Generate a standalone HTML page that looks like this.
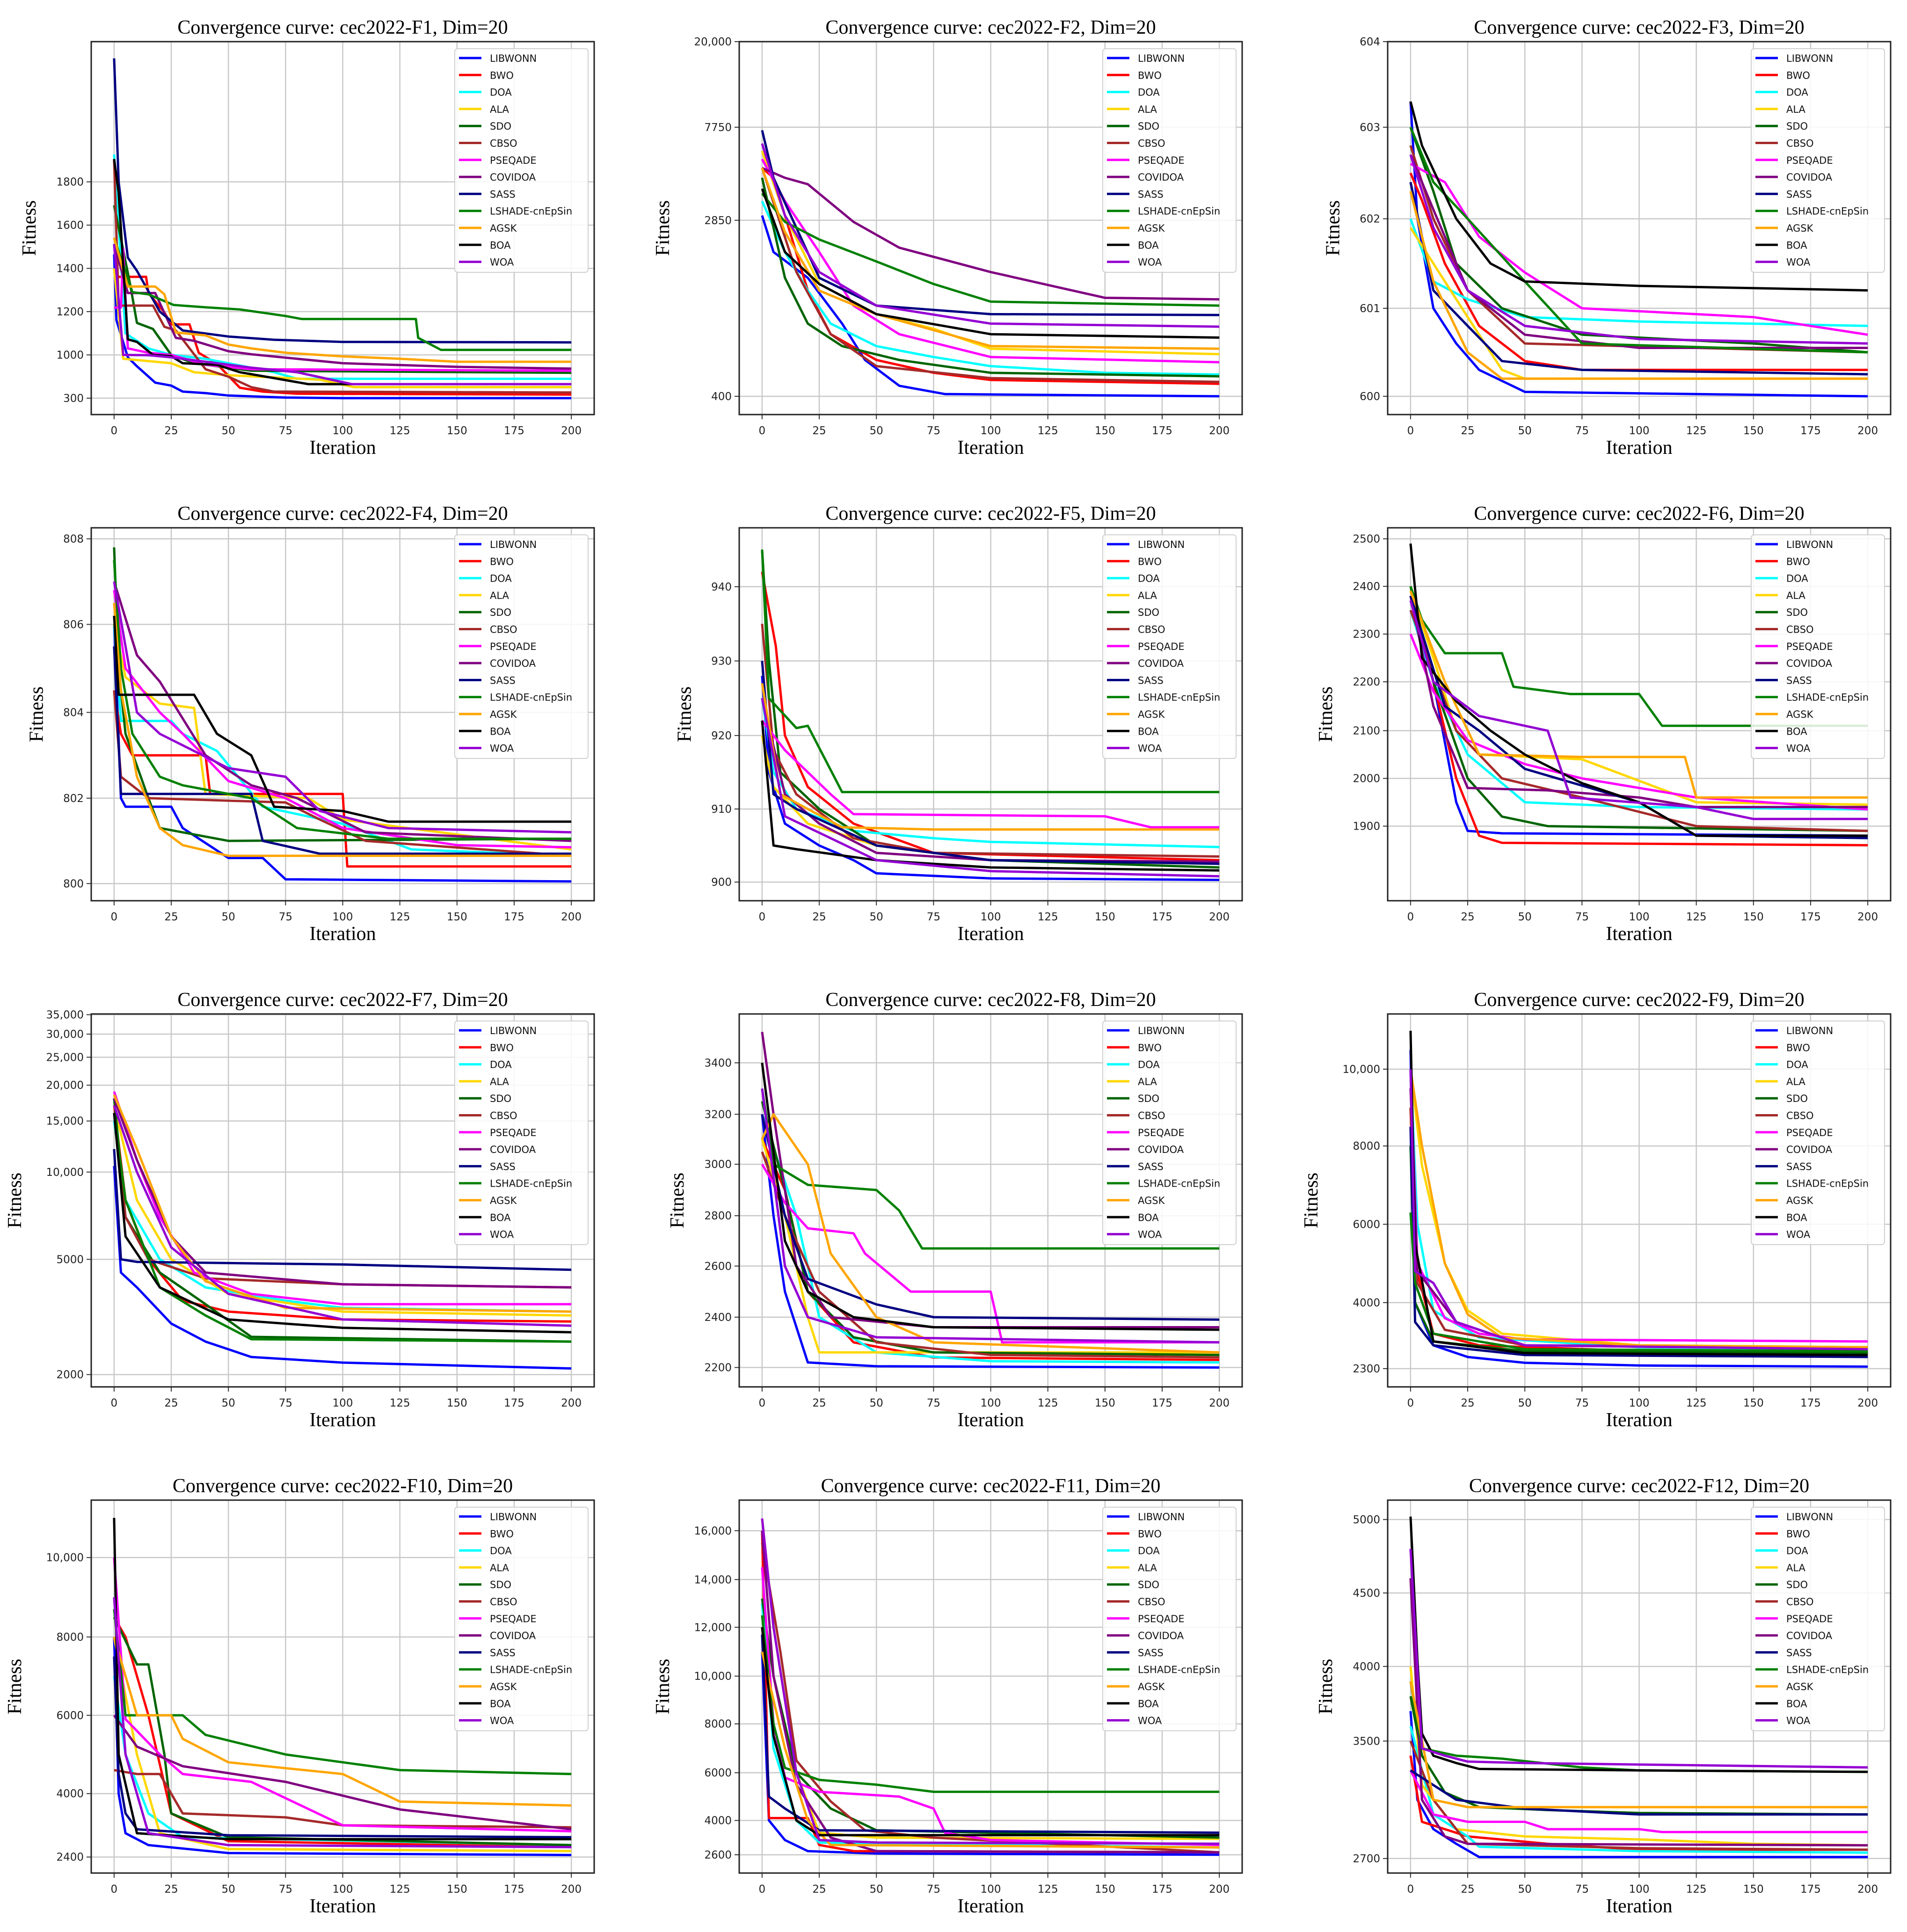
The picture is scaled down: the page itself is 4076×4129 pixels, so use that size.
<!DOCTYPE html>
<html><head><meta charset="utf-8"><style>
html,body{margin:0;padding:0;background:#fff;}
svg{display:block;}
</style></head><body>
<svg id="chart" xmlns="http://www.w3.org/2000/svg" width="4076" height="4129" viewBox="0 0 4076 4129"></svg>
<script>
const algoNames = ['LIBWONN','BWO','DOA','ALA','SDO','CBSO','PSEQADE','COVIDOA','SASS','LSHADE-cnEpSin','AGSK','BOA','WOA'];
const algoColors = ['#0000ff','#ff0000','#00ffff','#ffd700','#006400','#a52a2a','#ff00ff','#800080','#000080','#008000','#ffa500','#000000','#9400d3'];
const xTicks = [0,25,50,75,100,125,150,175,200];

const f1Ticks = [300,1000,1200,1400,1600,1800];
const f1Labels = ['300','1000','1200','1400','1600','1800'];
const f1Series = [
[0,1465,1,1161,4,1058,6,961,10,816,18,551,25,503,30,406,40,382,50,343,75,310,100,300,200,300],
[0,1361,14,1361,15,1286,22,1196,25,1141,33,1141,37,1010,45,855,55,469,65,406,80,372,200,358],
[0,1927,5,1099,15,1030,25,1000,40,937,50,865,70,720,80,614,200,614],
[0,1400,4,937,25,865,35,720,50,671,90,599,105,478,200,478],
[0,1692,7,1327,10,1148,17,1120,25,1000,35,865,60,744,200,710],
[0,1900,2,1228,17,1228,22,1130,27,1113,40,768,50,648,60,478,70,406,200,392],
[0,1219,3,1219,4,1490,6,1030,15,1010,25,1000,40,840,60,768,200,744],
[0,1513,6,1286,18,1286,27,1079,35,1065,50,1017,60,1003,80,937,100,865,150,807,200,778],
[0,2371,2,1800,6,1450,10,1389,20,1200,30,1113,40,1099,50,1085,70,1070,100,1060,200,1058],
[0,1540,8,1290,15,1280,26,1231,40,1220,55,1210,65,1195,75,1180,82,1166,132,1166,133,1079,143,1023,200,1023],
[0,1541,6,1316,18,1316,22,1280,27,1104,40,1090,50,1048,60,1030,75,1010,100,976,125,937,150,889,200,889],
[0,1906,2,1750,6,1072,10,1060,17,1000,25,980,30,865,45,840,55,720,70,624,85,527,200,527],
[0,1510,4,1000,15,995,25,961,40,889,60,793,80,720,104,527,200,527]
];

const f2Ticks = [400,2850,7750,20000];
const f2Labels = ['400','2850','7750','20,000'];
const f2Series = [
[0,3000,5,2000,20,1500,35,900,45,600,60,450,80,410,200,400],
[0,5000,5,4500,10,3000,20,1300,30,800,50,600,75,520,100,480,200,460],
[0,3500,10,2000,20,1300,30,900,50,700,75,620,100,560,150,520,200,510],
[0,6000,10,3000,25,1400,50,1000,75,850,100,680,200,640],
[0,4500,10,1500,20,900,35,700,60,600,100,520,200,500],
[0,5000,15,1600,30,800,50,560,100,490,200,470],
[0,5500,10,3500,25,2000,40,1100,60,800,100,620,200,585],
[0,5000,10,4500,20,4200,40,2800,60,2100,100,1600,150,1200,200,1180],
[0,7500,5,4500,25,1500,50,1100,100,1000,200,990],
[0,3800,10,2800,25,2300,50,1800,75,1400,100,1150,200,1100],
[0,5000,10,2500,25,1300,50,1000,100,700,200,680],
[0,4000,10,2000,25,1400,50,1000,100,800,200,770],
[0,6500,10,3000,25,1600,50,1100,100,900,200,870]
];

const f3Ticks = [600,601,602,603,604];
const f3Labels = ['600','601','602','603','604'];
const f3Series = [
[0,603.3,3,602,10,601,20,600.6,30,600.3,50,600.05,200,600.0],
[0,602.5,5,602.2,15,601.5,30,600.8,50,600.4,75,600.3,200,600.3],
[0,602,10,601.3,25,601.1,50,600.9,100,600.85,200,600.8],
[0,601.9,10,601.5,25,600.9,40,600.3,50,600.2,200,600.2],
[0,603,10,602.3,20,601.5,40,601,75,600.7,150,600.6,200,600.5],
[0,602.8,10,602,25,601.2,50,600.6,200,600.5],
[0,602.6,15,602.4,30,601.8,50,601.4,75,601,150,600.9,200,600.7],
[0,602.7,10,602.1,25,601.2,50,600.7,100,600.55,200,600.55],
[0,602.4,10,601.2,25,600.8,40,600.4,75,600.3,200,600.25],
[0,603,10,602.4,25,602,50,601.3,75,600.6,200,600.5],
[0,602.3,10,601.3,25,600.5,40,600.2,200,600.2],
[0,603.3,5,602.8,20,602,35,601.5,50,601.3,100,601.25,200,601.2],
[0,602.7,10,601.9,25,601.2,50,600.8,100,600.65,200,600.6]
];

const f4Ticks = [800,802,804,806,808];
const f4Labels = ['800','802','804','806','808'];
const f4Series = [
[0,806,3,802,5,801.8,25,801.8,30,801.3,50,800.6,65,800.6,75,800.1,200,800.05],
[0,804.5,3,803.5,8,803,40,803,42,802.1,100,802.1,102,800.4,200,800.4],
[0,806,3,803.8,25,803.8,30,803.5,45,803.1,65,801.8,100,801.4,130,800.8,200,800.65],
[0,806,5,804.8,20,804.2,35,804.1,40,802.1,85,802,100,801.5,200,800.8],
[0,807.8,2,805,5,803.5,15,802,20,801.3,50,801,200,801.05],
[0,804.5,3,802.5,15,802,75,801.9,90,801.5,110,801,200,800.65],
[0,806.8,5,805,20,804,30,803.5,50,802.4,75,802,100,801.3,150,800.9,200,800.85],
[0,807,10,805.3,20,804.7,40,803,60,802.3,80,802,110,801.2,200,801.0],
[0,805.5,3,802.1,60,802.1,65,801,90,800.7,200,800.7],
[0,807.5,3,805,8,803.5,20,802.5,30,802.3,60,802,80,801.3,120,801.05,200,801.05],
[0,806.5,3,804.5,10,802.5,20,801.3,30,800.9,50,800.65,200,800.65],
[0,806.2,2,804.4,35,804.4,45,803.5,60,803,70,801.8,100,801.7,120,801.45,200,801.45],
[0,807,5,805.5,10,804,20,803.5,50,802.7,75,802.5,90,801.7,120,801.3,200,801.2]
];

const f5Ticks = [900,910,920,930,940];
const f5Labels = ['900','910','920','930','940'];
const f5Series = [
[0,928,3,915,10,908,25,905,40,903,50,901.2,100,900.5,200,900.3],
[0,942,3,937,6,932,10,920,20,913,40,908,75,904,200,903],
[0,925,5,915,15,910,40,907,75,906,100,905.5,200,904.8],
[0,920,5,913,20,908,50,905,100,903,200,902.5],
[0,945,3,930,8,915,25,910,50,905,100,903,200,902],
[0,935,5,918,15,912,40,906,75,904,200,903.5],
[0,922,10,918,20,915,30,912,40,909.3,150,909,170,907.5,200,907.5],
[0,925,10,912,25,908,50,904,100,903,200,902.8],
[0,930,5,912,15,910,50,905,100,903,200,902.5],
[0,945,3,925,15,921,20,921.3,35,912.3,200,912.3],
[0,927,8,912,20,910,35,907.5,75,907.2,200,907.2],
[0,922,5,905,15,904.5,50,903,100,902,200,901.6],
[0,925,10,909,30,906,50,903,100,901.5,200,900.8]
];

const f6Ticks = [1900,2000,2100,2200,2300,2400,2500];
const f6Labels = ['1900','2000','2100','2200','2300','2400','2500'];
const f6Series = [
[0,2380,10,2200,20,1950,25,1890,40,1885,200,1880],
[0,2350,10,2200,20,2000,30,1880,40,1865,200,1860],
[0,2350,10,2200,25,2050,50,1950,100,1940,200,1935],
[0,2390,10,2250,20,2100,30,2050,75,2040,125,1950,200,1945],
[0,2400,10,2200,25,2000,40,1920,60,1900,200,1890],
[0,2350,20,2100,40,2000,75,1960,125,1900,200,1890],
[0,2300,10,2180,25,2080,50,2030,75,2000,125,1960,200,1935],
[0,2380,10,2150,25,1980,60,1975,100,1960,125,1940,200,1940],
[0,2380,15,2150,30,2100,50,2020,100,1950,125,1880,200,1875],
[0,2400,5,2330,15,2260,40,2260,45,2190,70,2175,100,2175,110,2110,200,2110],
[0,2390,15,2200,30,2050,75,2045,120,2045,125,1960,200,1960],
[0,2490,5,2250,20,2160,35,2100,50,2050,75,1990,100,1950,125,1880,200,1880],
[0,2370,10,2200,30,2130,60,2100,70,1960,125,1940,150,1915,200,1915]
];

const f7Ticks = [2000,5000,10000,15000,20000,25000,30000,35000];
const f7Labels = ['2000','5000','10,000','15,000','20,000','25,000','30,000','35,000'];
const f7Series = [
[0,10500,3,4500,10,4000,25,3000,40,2600,60,2300,100,2200,200,2100],
[0,17000,5,8000,15,5000,30,3600,50,3300,100,3100,200,3050],
[0,15000,5,8000,20,5000,40,4000,75,3600,100,3400,200,3300],
[0,17000,10,8000,25,5000,50,3800,100,3300,200,3200],
[0,18000,5,7000,20,4500,40,3500,60,2700,200,2600],
[0,16000,5,7000,15,5000,40,4300,100,4100,200,4000],
[0,19000,10,11000,20,7000,35,4500,60,3800,100,3500,200,3500],
[0,18000,10,11000,25,6000,40,4500,100,4100,200,4000],
[0,12000,3,5000,10,4900,100,4800,200,4600],
[0,16000,5,8000,20,4000,40,3200,60,2650,200,2600],
[0,18500,10,12000,25,6000,40,4200,75,3400,200,3300],
[0,16000,5,6000,20,4000,50,3100,100,2900,200,2800],
[0,17000,10,10000,25,5500,50,3800,100,3100,200,2950]
];

const f8Ticks = [2200,2400,2600,2800,3000,3200,3400];
const f8Labels = ['2200','2400','2600','2800','3000','3200','3400'];
const f8Series = [
[0,3200,5,2800,10,2500,20,2220,50,2205,200,2200],
[0,3100,10,2900,20,2500,40,2300,75,2240,200,2230],
[0,3200,15,2800,25,2400,50,2260,100,2225,200,2220],
[0,3100,10,2800,20,2400,25,2260,200,2260],
[0,3250,10,2900,20,2500,40,2320,75,2260,200,2250],
[0,3050,10,2800,25,2500,50,2300,100,2250,200,2240],
[0,3000,10,2850,20,2750,40,2730,45,2650,65,2500,100,2500,105,2300,200,2300],
[0,3520,5,3200,15,2600,30,2400,75,2360,200,2360],
[0,3200,10,2800,20,2550,50,2450,75,2400,200,2390],
[0,3300,5,3000,20,2920,50,2900,60,2820,70,2670,200,2670],
[0,3100,5,3200,20,3000,30,2650,50,2400,75,2300,200,2260],
[0,3400,10,2700,20,2500,40,2400,75,2360,200,2350],
[0,3300,10,2600,20,2400,50,2320,200,2300]
];

const f9Ticks = [2300,4000,6000,8000,10000];
const f9Labels = ['2300','4000','6000','8000','10,000'];
const f9Series = [
[0,10500,2,4000,10,2900,25,2600,50,2450,100,2380,200,2350],
[0,9000,2,5000,10,3200,30,2900,100,2750,200,2700],
[0,10000,3,6000,10,3800,30,3100,100,2850,200,2800],
[0,10000,5,7500,15,5000,25,3800,40,3200,100,2900,200,2850],
[0,8000,2,4000,10,3000,50,2750,200,2700],
[0,9000,3,4500,15,3300,50,2900,200,2800],
[0,10000,3,5000,15,3600,30,3200,50,3050,200,3000],
[0,9500,3,4800,20,3500,50,2900,200,2850],
[0,8500,2,3500,10,2900,50,2650,200,2600],
[0,6300,2,4500,10,3200,50,2800,200,2750],
[0,10000,5,8000,15,5000,25,3700,40,3100,100,2900,200,2850],
[0,11000,2,5500,10,3000,50,2700,200,2650],
[0,10000,2,4800,10,4500,20,3500,50,2900,200,2800]
];

const f10Ticks = [2400,4000,6000,8000,10000];
const f10Labels = ['2400','4000','6000','8000','10,000'];
const f10Series = [
[0,8000,2,4000,5,3000,15,2700,50,2500,200,2450],
[0,8500,5,8000,15,6000,25,3500,50,2800,200,2650],
[0,7000,5,5000,15,3500,30,2900,200,2700],
[0,8000,10,5000,20,3000,50,2600,200,2550],
[0,8500,10,7300,15,7300,22,5000,25,3500,50,2900,200,2700],
[0,4600,10,4500,20,4500,30,3500,75,3400,100,3200,200,3150],
[0,10000,5,5900,20,5000,30,4500,60,4300,100,3200,200,3050],
[0,6000,10,5200,30,4700,75,4300,125,3600,200,3100],
[0,7500,2,4500,5,3500,10,3100,50,2950,200,2900],
[0,8700,5,6000,30,6000,40,5500,75,5000,100,4800,125,4600,200,4500],
[0,8000,10,6000,25,6000,30,5400,50,4800,100,4500,125,3800,200,3700],
[0,11000,2,5000,10,3000,50,2850,200,2850],
[0,9000,5,5000,15,3000,50,2700,200,2650]
];

const f11Ticks = [2600,4000,6000,8000,10000,12000,14000,16000];
const f11Labels = ['2600','4000','6000','8000','10,000','12,000','14,000','16,000'];
const f11Series = [
[0,11000,3,4000,10,3200,20,2750,50,2650,200,2600],
[0,16000,3,4100,20,4100,25,3000,40,2750,200,2700],
[0,13000,5,7000,15,4000,25,3100,200,2900],
[0,16500,5,12000,15,6000,25,3500,50,3300,200,3250],
[0,13200,5,10000,15,6000,30,4500,50,3600,200,3300],
[0,15500,8,11000,15,6500,30,4800,45,3600,75,3300,200,2700],
[0,14500,5,8000,10,5800,25,5200,60,5000,75,4500,80,3500,100,3200,200,3000],
[0,16000,5,10000,15,5500,30,3300,50,2750,200,2700],
[0,11700,3,5000,10,4500,25,3600,200,3500],
[0,12500,5,8000,10,6200,25,5700,50,5500,75,5200,200,5200],
[0,11000,10,7000,20,4000,30,3000,200,2900],
[0,12000,5,7500,15,4000,25,3400,200,3400],
[0,16500,5,12000,15,6000,25,3200,50,3100,200,3050]
];

const f12Ticks = [2700,3500,4000,4500,5000];
const f12Labels = ['2700','3500','4000','4500','5000'];
const f12Series = [
[0,3700,3,3100,10,2900,20,2800,30,2710,200,2710],
[0,3400,5,2950,15,2900,25,2850,60,2800,100,2760,200,2760],
[0,3600,10,3000,25,2850,30,2780,100,2750,200,2740],
[0,4000,5,3200,20,2900,50,2850,100,2830,150,2800,200,2790],
[0,3800,5,3400,15,3150,30,3050,60,3030,100,3010,200,3000],
[0,3500,10,3100,25,2800,100,2770,200,2760],
[0,3300,10,3000,25,2950,50,2950,60,2900,100,2900,110,2880,200,2880],
[0,4600,5,3100,15,2850,25,2800,200,2790],
[0,3300,10,3200,20,3100,50,3040,100,3000,200,3000],
[0,3900,5,3450,20,3400,40,3380,75,3320,100,3300,200,3290],
[0,3900,10,3100,25,3050,200,3050],
[0,5020,3,4050,5,3550,10,3400,20,3350,30,3310,100,3300,200,3290],
[0,4800,5,3450,15,3400,25,3360,50,3350,100,3340,200,3320]
];

// axis layout (fraction of axes height from top for each tick) — scale definition, not data
const panels = [
 {id:'F1', col:0,row:0, log:false, ticks:f1Ticks, labels:f1Labels, frac:[0.956,0.840,0.724,0.608,0.492,0.376], series:f1Series},
 {id:'F2', col:1,row:0, log:true,  ticks:f2Ticks, labels:f2Labels, frac:[0.951,0.479,0.2295,0.0], series:f2Series},
 {id:'F3', col:2,row:0, log:false, ticks:f3Ticks, labels:f3Labels, frac:[0.951,0.715,0.475,0.2295,0.0], series:f3Series},
 {id:'F4', col:0,row:1, log:false, ticks:f4Ticks, labels:f4Labels, frac:[0.954,0.725,0.495,0.259,0.0295], series:f4Series},
 {id:'F5', col:1,row:1, log:false, ticks:f5Ticks, labels:f5Labels, frac:[0.95,0.754,0.557,0.357,0.158], series:f5Series},
 {id:'F6', col:2,row:1, log:false, ticks:f6Ticks, labels:f6Labels, frac:[0.800,0.672,0.544,0.413,0.285,0.157,0.0295], series:f6Series},
 {id:'F7', col:0,row:2, log:true,  ticks:f7Ticks, labels:f7Labels, frac:[0.967,0.658,0.424,0.287,0.191,0.116,0.054,0.002], series:f7Series},
 {id:'F8', col:1,row:2, log:false, ticks:f8Ticks, labels:f8Labels, frac:[0.948,0.813,0.676,0.541,0.403,0.269,0.131], series:f8Series},
 {id:'F9', col:2,row:2, log:false, ticks:f9Ticks, labels:f9Labels, frac:[0.951,0.774,0.564,0.354,0.148], series:f9Series},
 {id:'F10',col:0,row:3, log:false, ticks:f10Ticks, labels:f10Labels, frac:[0.957,0.787,0.577,0.367,0.154], series:f10Series},
 {id:'F11',col:1,row:3, log:false, ticks:f11Ticks, labels:f11Labels, frac:[0.951,0.859,0.731,0.600,0.472,0.341,0.213,0.082], series:f11Series},
 {id:'F12',col:2,row:3, log:false, ticks:f12Ticks, labels:f12Labels, frac:[0.961,0.646,0.446,0.249,0.052], series:f12Series}
];

const NS = 'http://www.w3.org/2000/svg';
const svg = document.getElementById('chart');
const colLeft = [195,1580,2966], rowTop = [89,1128,2167,3206];
const W = 1075, H = 797;
function mk(tag, attrs, parent){
  const e = document.createElementNS(NS, tag);
  for (const k in attrs) e.setAttribute(k, attrs[k]);
  (parent||svg).appendChild(e);
  return e;
}
function makeX(L){ return v => L + (v + 10) / 220 * W; }
function makeY(p, T){
  const tv = p.ticks.map(v => p.log ? Math.log10(v) : v);
  return v => {
    const t = p.log ? Math.log10(v) : v;
    let i = 0;
    while (i < tv.length - 2 && t > tv[i+1]) i++;
    const f = p.frac[i] + (t - tv[i]) * (p.frac[i+1] - p.frac[i]) / (tv[i+1] - tv[i]);
    return T + f * H;
  };
}

panels.forEach((p, pi) => {
  const L = colLeft[p.col], T = rowTop[p.row];
  const xs = makeX(L), ys = makeY(p, T);
  const g = mk('g', {});
  
  
  const clipId = 'clip' + pi;
  const cp = mk('clipPath', {id: clipId}, g);
  mk('rect', {x: L, y: T, width: W, height: H}, cp);
  // grid
  xTicks.forEach(t => {
    const gl = mk('line', {x1: xs(t), x2: xs(t), y1: T, y2: T + H, stroke: '#c8c8c8', 'stroke-width': 2.5}, g);
    
    
    const tk = mk('line', {x1: xs(t), x2: xs(t), y1: T + H, y2: T + H + 10, stroke: '#333', 'stroke-width': 2}, g);
    
    
    const tl = mk('text', {x: xs(t), y: T + H + 42, 'text-anchor': 'middle', 'font-family': 'DejaVu Sans, Liberation Sans, sans-serif', 'font-size': 23, fill: '#222'}, g);
    tl.textContent = String(t);
    
    
  });
  p.ticks.forEach((t, i) => {
    const y = ys(t);
    const gl = mk('line', {x1: L, x2: L + W, y1: y, y2: y, stroke: '#c8c8c8', 'stroke-width': 2.5}, g);
    
    
    const tk = mk('line', {x1: L - 10, x2: L, y1: y, y2: y, stroke: '#333', 'stroke-width': 2}, g);
    
    
    const tl = mk('text', {x: L - 16, y: y + 8, 'text-anchor': 'end', 'font-family': 'DejaVu Sans, Liberation Sans, sans-serif', 'font-size': 23, fill: '#222'}, g);
    tl.textContent = p.labels[i];
    
    
  });
  // series
  const sg = mk('g', {'clip-path': 'url(#' + clipId + ')'}, g);
  p.series.forEach((s, si) => {
    const pts = [];
    for (let k = 0; k < s.length; k += 2) pts.push(xs(s[k]).toFixed(1) + ',' + ys(s[k+1]).toFixed(1));
    const pl = mk('polyline', {points: pts.join(' '), fill: 'none', stroke: algoColors[si], 'stroke-width': 5, 'stroke-linejoin': 'round'}, sg);
    
    
  });
  // frame
  const fr = mk('rect', {x: L, y: T, width: W, height: H, fill: 'none', stroke: '#222', 'stroke-width': 3}, g);
  
  
  // legend
  const lg = mk('g', {}, g);
  
  
  mk('rect', {x: L + 777, y: T + 15, width: 285, height: 478, rx: 6, fill: '#fff', 'fill-opacity': 0.85, stroke: '#d0d0d0', 'stroke-width': 2}, lg);
  algoNames.forEach((n, i) => {
    const yy = T + 35 + i * 36.3;
    const e = mk('g', {}, lg);
    
    
    mk('line', {x1: L + 786, x2: L + 834, y1: yy, y2: yy, stroke: algoColors[i], 'stroke-width': 5}, e);
    const t = mk('text', {x: L + 852, y: yy + 8, 'font-family': 'DejaVu Sans, Liberation Sans, sans-serif', 'font-size': 21, fill: '#111'}, e);
    t.textContent = n;
  });
  // title
  const tt = mk('text', {x: L + W / 2, y: T - 17, 'text-anchor': 'middle', 'font-family': 'Liberation Serif, serif', 'font-size': 42, fill: '#000'}, g);
  tt.textContent = 'Convergence curve: cec2022-' + p.id + ', Dim=20';
  
  
  // axis labels
  const xl = mk('text', {x: L + W / 2, y: T + H + 84, 'text-anchor': 'middle', 'font-family': 'Liberation Serif, serif', 'font-size': 42, fill: '#000'}, g);
  xl.textContent = 'Iteration';
  
  
  const maxLen = Math.max(...p.labels.map(s => s.length));
  const yx = L - (45 + 15.5 * maxLen) - 12;
  const yl = mk('text', {x: yx, y: T + H / 2, 'text-anchor': 'middle', 'font-family': 'Liberation Serif, serif', 'font-size': 42, fill: '#000', transform: 'rotate(-90 ' + yx + ' ' + (T + H / 2) + ')'}, g);
  yl.textContent = 'Fitness';
  
  
});
</script>
</body></html>
